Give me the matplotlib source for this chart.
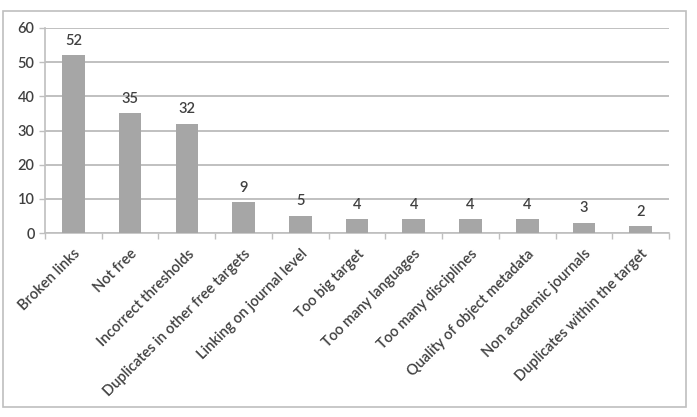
import matplotlib
matplotlib.use('Agg')
import matplotlib.pyplot as plt
from matplotlib.patches import Rectangle
import numpy as np

# 数据
categories = [
    "Broken links", "Not free", "Incorrect thresholds",
    "Duplicates in other free targets", "Linking on journal level",
    "Too big target", "Too many languages", "Too many disciplines",
    "Quality of object metadata", "Non academic journals",
    "Duplicates within the target",
]
counts = [52, 35, 32, 9, 5, 4, 4, 4, 4, 3, 2]
y_ticks = [0, 10, 20, 30, 40, 50, 60]

plt.rcParams['font.family'] = ['Lato', 'DejaVu Sans']

fig = plt.figure(figsize=(6.97, 4.17), dpi=100)
fig.patch.set_facecolor('white')

# 外框
fig.patches.append(Rectangle((0.0043, 0.024), 0.980, 0.950, transform=fig.transFigure,
                             fill=False, edgecolor='#bfbfbf', linewidth=1.2))

ax = fig.add_axes([0.0646, 0.4412, 0.8954, 0.4917])

x = np.arange(len(categories))
bars = ax.bar(x, counts, width=0.4, color='#a6a6a6', zorder=3)

ax.set_xlim(-0.5, len(categories) - 0.5)
ax.set_ylim(0, 60)
ax.set_yticks(y_ticks)
ax.yaxis.grid(True, color='#c0c0c0', linewidth=1.4, zorder=0)

for side in ['top', 'right']:
    ax.spines[side].set_visible(False)
for side in ['left', 'bottom']:
    ax.spines[side].set_color('#bfbfbf')
    ax.spines[side].set_linewidth(1.2)

ax.tick_params(axis='y', colors='#bfbfbf', labelcolor='#404040', labelsize=10.5, length=4, width=1)
for t in ax.get_yticklabels():
    t.set_fontweight('semibold')

# x 轴刻度在类别之间
ax.set_xticks(np.arange(-0.5, len(categories), 1.0), minor=True)
ax.tick_params(axis='x', which='minor', length=4, color='#bfbfbf', width=1)
ax.set_xticks(x)
ax.set_xticklabels(categories, rotation=45, ha='right', rotation_mode='anchor',
                   fontsize=10.5, color='#404040', fontweight='semibold')
ax.tick_params(axis='x', which='major', length=0, pad=10)

# 添加数值标签
for bar, v in zip(bars, counts):
    ax.text(bar.get_x() + bar.get_width() / 2, v + 2.2, str(v),
            ha='center', va='bottom', fontsize=10.5, color='#404040', fontweight='semibold')

plt.savefig('out.png', dpi=100)
plt.close()
